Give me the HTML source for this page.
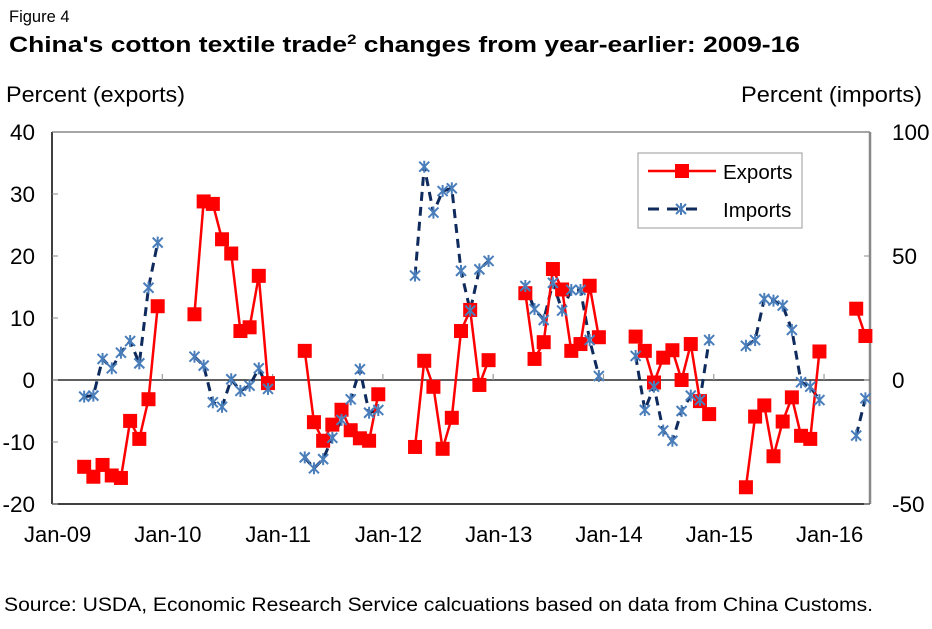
<!DOCTYPE html>
<html><head><meta charset="utf-8">
<style>
html,body{margin:0;padding:0;background:#fff;}
body{width:932px;height:624px;overflow:hidden;font-family:"Liberation Sans",Arial,sans-serif;}
svg text{font-family:"Liberation Sans",Arial,sans-serif;}
</style></head>
<body>
<svg id="chart" width="932" height="624" viewBox="0 0 932 624" xmlns="http://www.w3.org/2000/svg">
<text x="9" y="22" font-size="16.5">Figure 4</text>
<text x="9" y="52" font-size="22" font-weight="bold" textLength="791" lengthAdjust="spacingAndGlyphs">China's cotton textile trade<tspan font-size="14" dy="-8">2</tspan><tspan dy="8"> changes from year-earlier:  2009-16</tspan></text>
<text x="6" y="102" font-size="22" textLength="179" lengthAdjust="spacingAndGlyphs">Percent (exports)</text>
<text x="741" y="102" font-size="22" textLength="181" lengthAdjust="spacingAndGlyphs">Percent (imports)</text>
<text x="4" y="611" font-size="19" textLength="869" lengthAdjust="spacingAndGlyphs">Source:  USDA, Economic Research Service calcuations based on data from China Customs.</text>
<g id="plot"></g>
</svg>
<script>
const monthCount = 89;
const yearLabels = ["Jan-09","Jan-10","Jan-11","Jan-12","Jan-13","Jan-14","Jan-15","Jan-16"];
const leftTicks = [40,30,20,10,0,-10,-20];
const rightTicks = [100,50,0,-50];
const N = null;
const exportsData = [N,N,N,-14.0,-15.6,-13.7,-15.4,-15.8,-6.6,-9.5,-3.1,11.9,
 N,N,N,10.6,28.8,28.4,22.7,20.4,7.9,8.5,16.8,-0.5,
 N,N,N,4.7,-6.8,-9.8,-7.2,-4.8,-8.1,-9.4,-9.8,-2.3,
 N,N,N,-10.8,3.1,-1.1,-11.1,-6.1,7.9,11.3,-0.8,3.2,
 N,N,N,14.0,3.4,6.1,17.9,14.6,4.7,5.8,15.2,6.9,
 N,N,N,7.0,4.7,-0.4,3.6,4.8,0.0,5.8,-3.4,-5.5,
 N,N,N,-17.3,-5.9,-4.1,-12.3,-6.7,-2.8,-9.0,-9.5,4.6,
 N,N,N,11.5,7.1];
const importsData = [N,N,N,-6.7,-6.3,8.5,4.7,11.0,15.7,6.7,37.2,55.4,
 N,N,N,9.4,5.8,-9.0,-10.8,0.3,-4.4,-2.3,4.7,-3.6,
 N,N,N,-31.2,-35.6,-31.9,-23.3,-16.1,-7.8,4.3,-13.2,-12.1,
 N,N,N,42.1,86.0,67.5,76.2,77.3,44.0,28.0,44.6,48.0,
 N,N,N,37.9,28.6,24.2,39.2,28.0,36.3,36.3,16.1,1.6,
 N,N,N,9.7,-12.1,-2.7,-20.4,-24.5,-12.5,-6.3,-8.1,16.1,
 N,N,N,13.8,16.1,32.7,32.0,30.0,20.2,-0.9,-2.7,-8.1,
 N,N,N,-22.4,-7.4];

const L=52,R=870,T=132,B=504;
const NS="http://www.w3.org/2000/svg";
const cw=(R-L)/monthCount;
const xs=i=>L+(i+0.5)*cw;
const yl=v=>T+(40-v)/60*(B-T);
const yr=v=>T+(100-v)/150*(B-T);
const g=document.getElementById('plot');
function mk(tag,attrs,parent){const e=document.createElementNS(NS,tag);for(const k in attrs)e.setAttribute(k,attrs[k]);(parent||g).appendChild(e);return e;}

let e;
e=mk('line',{x1:L,y1:T,x2:R,y2:T,stroke:'#888','stroke-width':1.5});


e=mk('line',{x1:R,y1:T,x2:R,y2:B,stroke:'#888','stroke-width':2.5});


e=mk('line',{x1:L,y1:T,x2:L,y2:B,stroke:'#000','stroke-width':1.5});


e=mk('line',{x1:L,y1:B,x2:R,y2:B,stroke:'#000','stroke-width':1.5});


e=mk('line',{x1:L,y1:yl(0),x2:R,y2:yl(0),stroke:'#000','stroke-width':1.2});



leftTicks.forEach(v=>{
  const y=yl(v);
  e=mk('line',{x1:L,y1:y,x2:L+6,y2:y,stroke:'#888','stroke-width':1});
  
  
  e=mk('text',{x:35,y:y+8,'font-size':22.5,'text-anchor':'end'});
  e.textContent=v;
  
  
});
rightTicks.forEach(v=>{
  const y=yr(v);
  e=mk('line',{x1:R-6,y1:y,x2:R,y2:y,stroke:'#888','stroke-width':1});
  
  
  e=mk('text',{x:R+22,y:y+8,'font-size':22.5});
  e.textContent=v;
  
  
});
yearLabels.forEach((lab,k)=>{
  const tx=L+k*12*cw;
  if(k>0){
    e=mk('line',{x1:tx,y1:yl(0)-6,x2:tx,y2:yl(0),stroke:'#999','stroke-width':1.2});
    
    
  }
  e=mk('text',{x:xs(k*12)+1,y:542,'font-size':22,'text-anchor':'middle'});
  e.textContent=lab;
  
  
});

function segments(data,yf){
  const segs=[];let cur=[];
  data.forEach((v,i)=>{if(v===null){if(cur.length)segs.push(cur);cur=[];}else cur.push([xs(i),yf(v)]);});
  if(cur.length)segs.push(cur);return segs;
}
segments(importsData,yr).forEach(s=>{
  e=mk('polyline',{points:s.map(p=>p.join(',')).join(' '),fill:'none',stroke:'#0f2a5c','stroke-width':3,'stroke-dasharray':'9,6'});
  
  
});
segments(exportsData,yl).forEach(s=>{
  e=mk('polyline',{points:s.map(p=>p.join(',')).join(' '),fill:'none',stroke:'#ff0000','stroke-width':2.5});
  
  
});
function star(cx,cy,r,name){
  const gg=mk('g',{stroke:'#4a7ebb','stroke-width':2});
  
  
  mk('line',{x1:cx-r,y1:cy-r,x2:cx+r,y2:cy+r},gg);
  mk('line',{x1:cx-r,y1:cy+r,x2:cx+r,y2:cy-r},gg);
  mk('line',{x1:cx,y1:cy-r-1,x2:cx,y2:cy+r+1},gg);
}
exportsData.forEach((v,i)=>{
  if(v===null)return;
  e=mk('rect',{x:xs(i)-7,y:yl(v)-7,width:14,height:14,fill:'#ff0000'});
  
  
});
importsData.forEach((v,i)=>{
  if(v===null)return;
  star(xs(i),yr(v),5,'imports-point');
});

const lg=mk('g',{});


mk('rect',{x:638,y:153,width:164,height:75,fill:'#fff',stroke:'#999','stroke-width':1},lg);
e=mk('line',{x1:648,y1:171,x2:716,y2:171,stroke:'#ff0000','stroke-width':2.5},lg);


mk('rect',{x:675,y:164,width:14,height:14,fill:'#ff0000'},lg);
e=mk('text',{x:723,y:179,'font-size':20.5},lg);
e.textContent='Exports';


e=mk('line',{x1:648,y1:209,x2:704,y2:209,stroke:'#0f2a5c','stroke-width':3,'stroke-dasharray':'11,8'},lg);


star(681,209,5,'legend-imports-marker');
e=mk('text',{x:723,y:217,'font-size':20.5},lg);
e.textContent='Imports';


</script>
</body></html>
